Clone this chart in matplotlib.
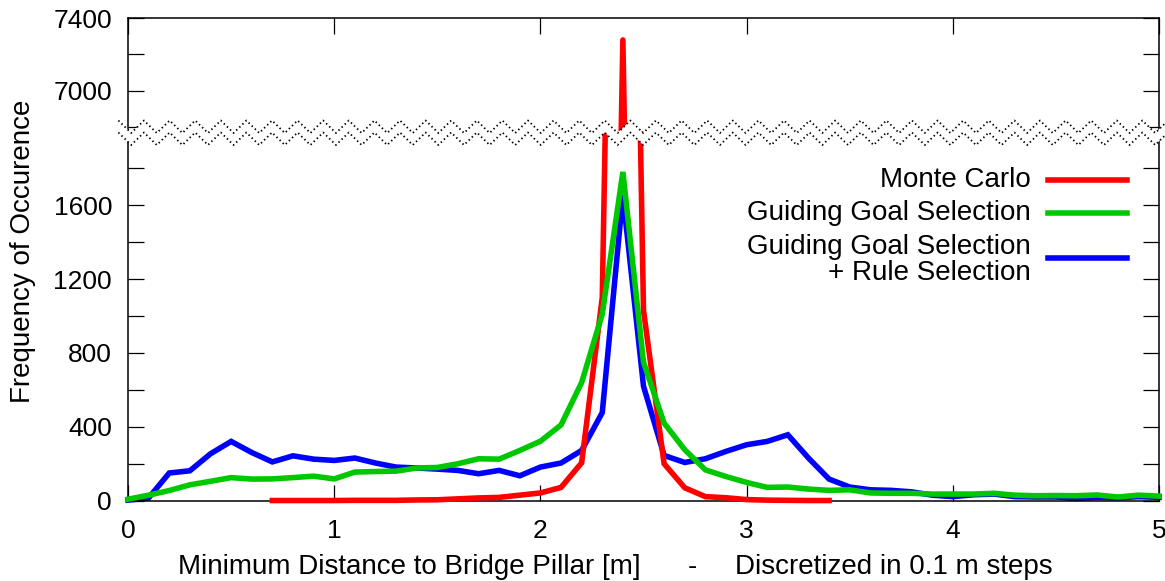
import numpy as np
import matplotlib
matplotlib.use("Agg")
import matplotlib.pyplot as plt
from matplotlib.lines import Line2D
from matplotlib.patches import Polygon, Rectangle

# ---------------- data ----------------
x_all = [0.0, 0.1, 0.2, 0.3, 0.4, 0.5, 0.6, 0.7, 0.8, 0.9,
         1.0, 1.1, 1.2, 1.3, 1.4, 1.5, 1.6, 1.7, 1.8, 1.9,
         2.0, 2.1, 2.2, 2.3, 2.4, 2.5, 2.6, 2.7, 2.8, 2.9,
         3.0, 3.1, 3.2, 3.3, 3.4, 3.5, 3.6, 3.7, 3.8, 3.9,
         4.0, 4.1, 4.2, 4.3, 4.4, 4.5, 4.6, 4.7, 4.8, 4.9, 5.0]

guiding_goal = [8, 30, 55, 86, 105, 125, 117, 118, 125, 133,
                118, 155, 158, 160, 177, 180, 200, 227, 225, 272,
                322, 410, 640, 1010, 1780, 750, 420, 276, 167, 131,
                99, 72, 74, 63, 56, 59, 42, 40, 40, 36,
                36, 36, 40, 30, 27, 28, 27, 31, 20, 30, 25]

guiding_rule = [3, 15, 150, 162, 254, 321, 261, 210, 243, 225,
                218, 231, 204, 182, 177, 171, 164, 146, 164, 135,
                182, 204, 272, 477, 1655, 620, 245, 207, 227, 267,
                303, 321, 357, 231, 117, 74, 59, 56, 48, 30,
                22, 32, 36, 22, 20, 20, 12, 18, 15, 22, 18]

x_mc = [0.7, 0.8, 0.9, 1.0, 1.1, 1.2, 1.3, 1.4, 1.5, 1.6,
        1.7, 1.8, 1.9, 2.0, 2.1, 2.2, 2.3, 2.4, 2.5, 2.6,
        2.7, 2.8, 2.9, 3.0, 3.1, 3.2, 3.3, 3.4]
monte_carlo = [1, 1, 1, 1, 2, 2, 2, 4, 5, 10,
               15, 18, 30, 42, 72, 205, 1100, 7280, 1030, 200,
               70, 22, 16, 6, 3, 2, 1, 1]

series_labels = ["Monte Carlo", "Guiding Goal Selection",
                 "Guiding Goal Selection\n+ Rule Selection"]
colors = ["#ff0000", "#00c800", "#0000ff"]

low_major = [0, 400, 800, 1200, 1600]
low_minor = [200, 600, 1000, 1400, 1800]
high_major = [7000, 7400]
high_minor = [6800, 7200]
x_ticks = [0, 1, 2, 3, 4, 5]

# ---------------- figure ----------------
plt.rcParams['font.family'] = ['Liberation Sans', 'DejaVu Sans']
FS = 20      # labels / legend
TFS = 19     # tick labels
W, H = 1165, 581
fig = plt.figure(figsize=(W / 100, H / 100), dpi=100)


def fx(px):
    return px / W


def fy(py):
    return 1 - py / H


left, right = 128, 1159
y0, ybreak, ytop = 500.7, 131.3, 18.3
ax_lo = fig.add_axes([fx(left), fy(y0), fx(right) - fx(left), fy(ybreak) - fy(y0)])
ax_hi = fig.add_axes([fx(left), fy(ybreak), fx(right) - fx(left), fy(ytop) - fy(ybreak)])

ax_lo.set_ylim(0, 2000)
hi_scale = (126.7 - 18.3) / 600.0
ax_hi.set_ylim(7400 - (ybreak - ytop) / hi_scale, 7400)
for ax in (ax_lo, ax_hi):
    ax.set_xlim(0, 5)
    ax.set_facecolor('white')
    for s in ax.spines.values():
        s.set_linewidth(1.1)

ax_lo.spines['top'].set_visible(False)
ax_hi.spines['bottom'].set_visible(False)

lw = 4.0
# lower panel: clip at top only
clip_lo = Rectangle((-0.02, -0.1), 1.04, 1.1, transform=ax_lo.transAxes)
l_b, = ax_lo.plot(x_all, guiding_rule, color=colors[2], lw=lw, zorder=2)
l_r, = ax_lo.plot(x_mc, monte_carlo, color=colors[0], lw=lw, zorder=3)
l_g, = ax_lo.plot(x_all, guiding_goal, color=colors[1], lw=lw, zorder=4)
for ln in (l_b, l_r, l_g):
    ln.set_clip_path(clip_lo)
    ln.set_solid_joinstyle('miter')

ax_hi.plot(x_all, guiding_rule, color=colors[2], lw=lw, zorder=2)
ax_hi.plot(x_mc, monte_carlo, color=colors[0], lw=lw, zorder=3)
ax_hi.plot(x_all, guiding_goal, color=colors[1], lw=lw, zorder=4)

# ticks
tl = 11.5
ax_lo.set_yticks(low_major)
ax_lo.set_yticks(low_minor, minor=True)
ax_lo.set_xticks(x_ticks)
ax_lo.set_xticklabels([str(v) for v in x_ticks])
ax_lo.tick_params(axis='both', which='both', direction='in', length=tl, width=0.9,
                  labelsize=TFS, right=True, top=False)
ax_lo.tick_params(axis='y', which='major', pad=11.5)
ax_lo.tick_params(axis='x', which='major', pad=13.5)

ax_hi.set_yticks(high_major)
ax_hi.set_yticks(high_minor, minor=True)
ax_hi.set_xticks(x_ticks)
ax_hi.tick_params(axis='both', which='both', direction='in', length=tl, width=0.9,
                  labelsize=TFS, right=True, top=True, bottom=False, labelbottom=False)
ax_hi.tick_params(axis='y', which='major', pad=11.5)

# axis labels
fig.text(fx(23), fy(251), 'Frequency of Occurence', rotation=90,
         ha='center', va='center', fontsize=FS)
fig.text(fx(178), fy(574), 'Minimum Distance to Bridge Pillar [m]',
         ha='left', va='baseline', fontsize=FS)
fig.text(fx(692), fy(574), '-', ha='center', va='baseline', fontsize=FS)
fig.text(fx(735), fy(574), 'Discretized in 0.1 m steps',
         ha='left', va='baseline', fontsize=FS)

# legend (manual)
leg_text_y = [180, 213, 260.5]
leg_line_y = [180, 213, 258]
for lab, c, ty, ly in zip(series_labels, colors, leg_text_y, leg_line_y):
    fig.text(fx(1031), fy(ty), lab, ha='right', va='center', fontsize=FS,
             linespacing=1.0)
    fig.add_artist(Line2D([fx(1048), fx(1127)], [fy(ly), fy(ly)],
                          color=c, lw=lw, transform=fig.transFigure))

# break marks (zigzag)
period = 25.6
xs = []
ys_up = []
k = 0
px = 118.4
while px < W + 30:
    xs.append(px)
    ys_up.append(120.5 if k % 2 == 0 else 133.0)
    px += period / 2
    k += 1
ys_dn = [v + 12.0 for v in ys_up]
poly_pts = [(fx(a), fy(b)) for a, b in zip(xs, ys_up)] + \
           [(fx(a), fy(b)) for a, b in zip(xs[::-1], ys_dn[::-1])]
fig.add_artist(Polygon(poly_pts, closed=True, facecolor='white', edgecolor='none',
                       transform=fig.transFigure, zorder=10))
for ys in (ys_up, ys_dn):
    fig.add_artist(Line2D([fx(a) for a in xs], [fy(b) for b in ys], color='black',
                          lw=1.3, linestyle=(0, (0.8, 1.6)),
                          transform=fig.transFigure, zorder=11))

fig.savefig('out.png', dpi=100)
